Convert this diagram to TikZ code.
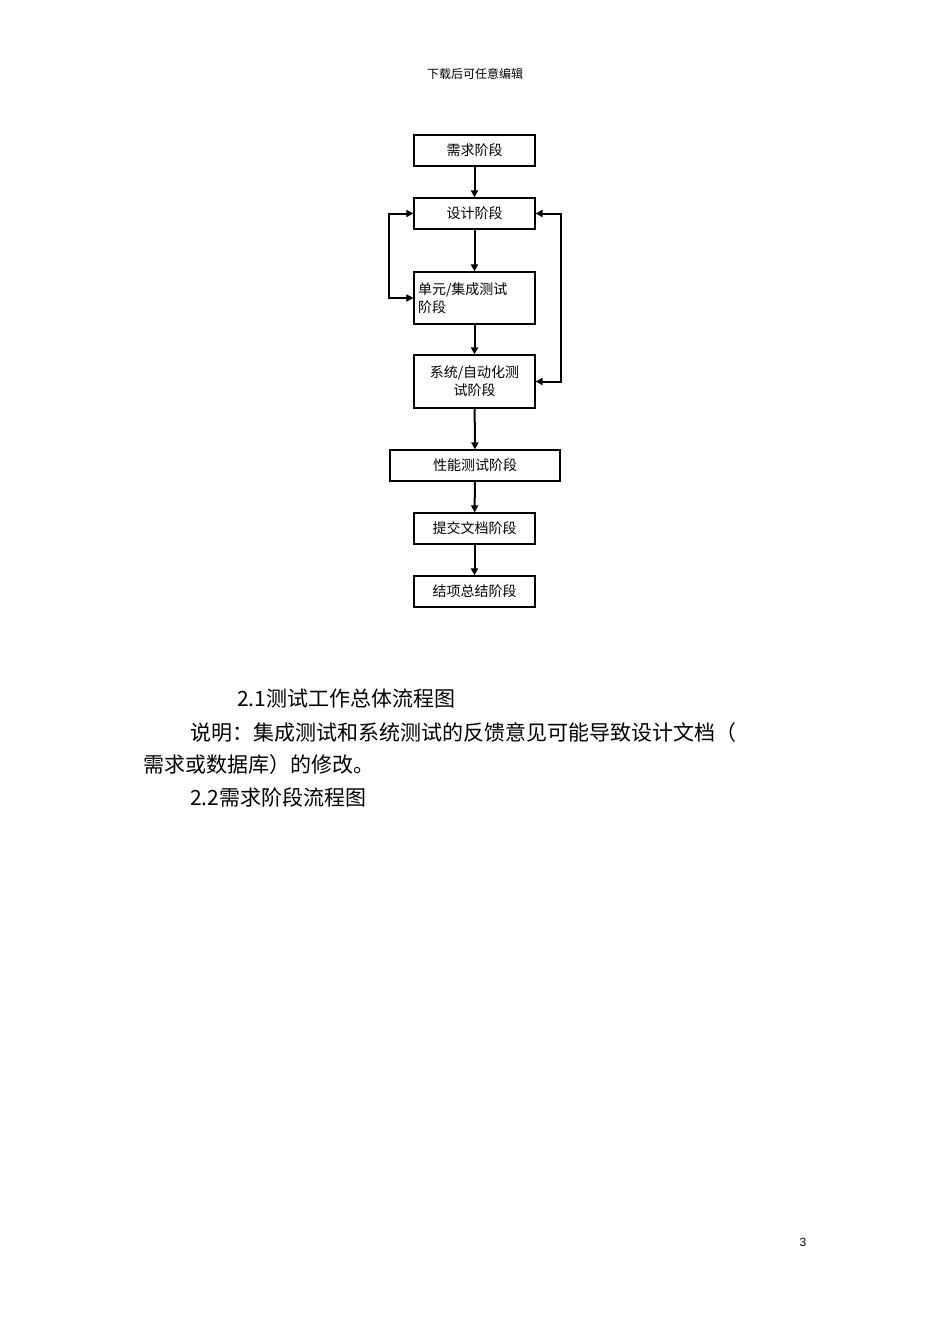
\documentclass[tikz,border=0pt]{standalone}
\usepackage{fontspec}
\setmainfont{Liberation Sans}
\newfontfamily\cjk{Noto Sans CJK SC}
\usetikzlibrary{arrows.meta}
\begin{document}
\begin{tikzpicture}[x=1pt,y=-1pt,
  box/.style={draw,line width=1.2pt,inner sep=0pt,font=\cjk\fontsize{14}{18}\selectfont},
  arr/.style={line width=2pt,-{Triangle[length=7pt,width=7pt]}},
  darr/.style={line width=2pt,{Triangle[length=7pt,width=7pt]}-{Triangle[length=7pt,width=7pt]}},
  body/.style={anchor=west,inner sep=0pt,font=\cjk\fontsize{21}{25}\selectfont}]
\useasboundingbox (0,0) rectangle (950,1344);
\node[font=\cjk\fontsize{12}{14}\selectfont] (hd) at (475,74) {下载后可任意编辑};
\node[box,minimum width=121pt,minimum height=31pt] (a) at (474.5,150.5) {需求阶段};
\node[box,minimum width=121pt,minimum height=31pt] (b) at (474.5,213.5) {设计阶段};
\node[box,minimum width=121pt,minimum height=52pt,align=left,text width=113pt] (c) at (474.5,298) {单元/集成测试\\阶段};
\node[box,minimum width=121pt,minimum height=53pt,align=center] (d) at (474.5,381.5) {系统/自动化测\\试阶段};
\node[box,minimum width=170pt,minimum height=31pt] (e) at (475,465.5) {性能测试阶段};
\node[box,minimum width=121pt,minimum height=31pt] (f) at (474.5,528.5) {提交文档阶段};
\node[box,minimum width=121pt,minimum height=31pt] (g) at (474.5,591.5) {结项总结阶段};
\draw[arr] (a) -- (b);
\draw[arr] (b) -- (c);
\draw[arr] (c) -- (d);
\draw[arr] (d) -- (e);
\draw[arr] (e) -- (f);
\draw[arr] (f) -- (g);
\draw[darr] (b.west) -- ++(-24,0) |- (c.west);
\draw[darr] (b.east) -- ++(25,0) |- (d.east);
\node[body] (t1) at (237,699) {2.1测试工作总体流程图};
\node[body] (t2) at (190,733) {说明：集成测试和系统测试的反馈意见可能导致设计文档（};
\node[body] (t3) at (143,765) {需求或数据库）的修改。};
\node[body] (t4) at (190,797) {2.2需求阶段流程图};
\node[font=\fontsize{12}{14}\selectfont] (pg) at (803,1242) {3};
\end{tikzpicture}
\end{document}
